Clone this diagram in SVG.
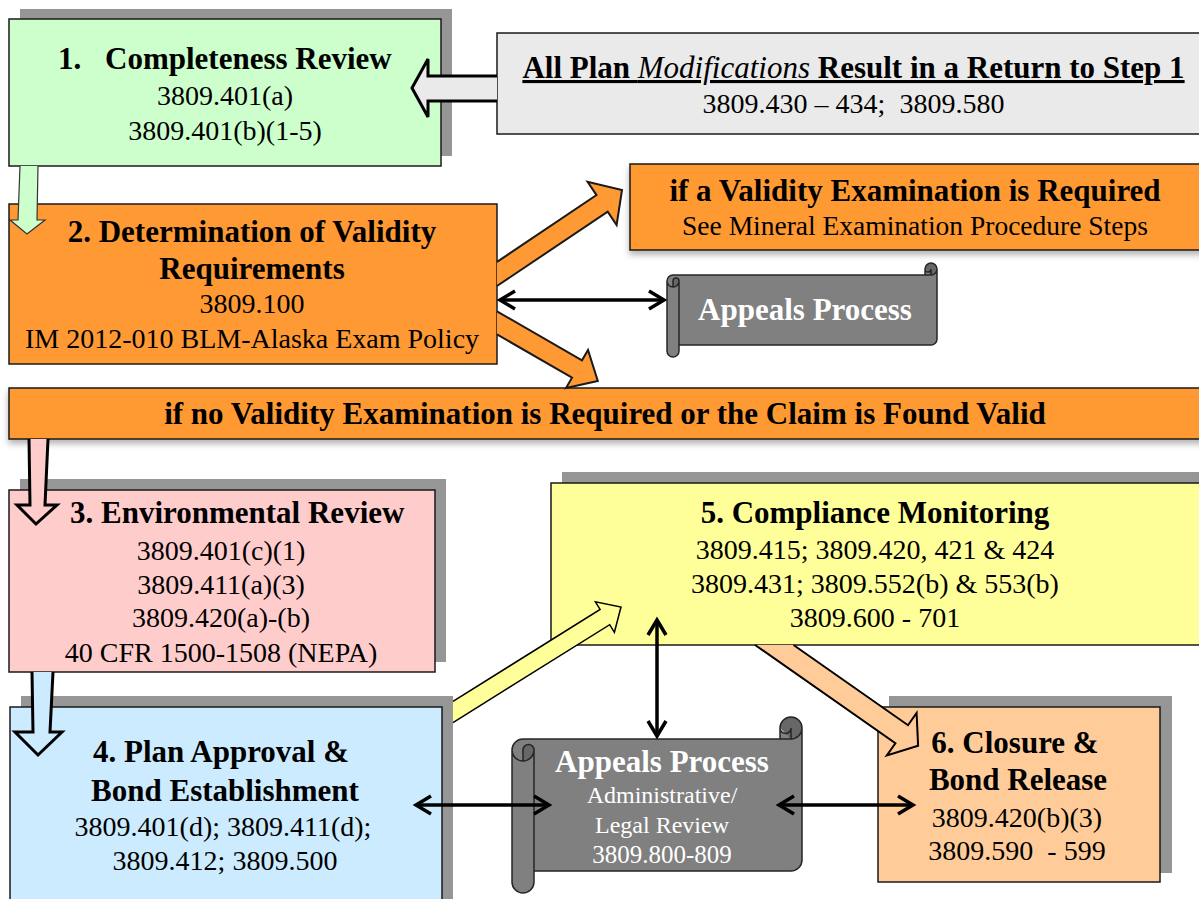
<svg xmlns="http://www.w3.org/2000/svg" width="1199" height="899" viewBox="0 0 1199 899">
<defs>
<style>
text{font-family:"Liberation Serif","Times New Roman",serif;fill:#000}
.tb{font-size:31px;font-weight:bold}
.r{font-size:28px}
.m{text-anchor:middle}
.w{fill:#fff}
.box{stroke:#1a1a1a;stroke-width:1.5}
.sh{fill:#969696}
.scroll{fill:#808080}
.scrolld{fill:#676767}
.scrolls{fill:none;stroke:#262626;stroke-width:1.5}
.blk{fill:none;stroke:#000;stroke-width:3.5;marker-start:url(#ah);marker-end:url(#ah)}
</style>
<marker id="ah" markerUnits="userSpaceOnUse" viewBox="-20 -12 24 24" refX="0" refY="0" markerWidth="24" markerHeight="24" orient="auto-start-reverse">
<path d="M-15,-9 L0,0 L-15,9" fill="none" stroke="#000" stroke-width="3.5" stroke-linejoin="miter"/>
</marker>
<filter id="soft" x="-5%" y="-30%" width="110%" height="180%">
<feGaussianBlur in="SourceAlpha" stdDeviation="3"/>
<feOffset dy="4" result="o"/>
<feFlood flood-color="#000" flood-opacity="0.3"/>
<feComposite in2="o" operator="in"/>
<feMerge><feMergeNode/><feMergeNode in="SourceGraphic"/></feMerge>
</filter>
</defs>
<rect width="1199" height="899" fill="#fff"/>

<g id="node-modifications">
<rect x="497" y="33" width="720" height="101" fill="#eaeaea" class="box"/>
<text class="tb m" x="853.5" y="78" text-decoration="underline">All Plan <tspan font-style="italic" font-weight="normal">Modifications</tspan> Result in a Return to Step 1</text>
<text class="r m" x="853.5" y="113" style="white-space:pre">3809.430 – 434;  3809.580</text>
</g>

<g id="node-1">
<rect class="sh" x="20" y="9" width="432" height="147"/>
<rect x="9" y="19" width="432" height="147" fill="#ccffcc" class="box"/>
<text class="tb" y="69"><tspan x="58">1.</tspan><tspan x="105">Completeness Review</tspan></text>
<text class="r m" x="225" y="105">3809.401(a)</text>
<text class="r m" x="225" y="140">3809.401(b)(1-5)</text>
</g>

<g id="node-2">
<rect x="9" y="204" width="488" height="160" fill="#ff9933" class="box"/>
<text class="tb m" x="252" y="242">2. Determination of Validity</text>
<text class="tb m" x="252" y="279">Requirements</text>
<text class="r m" x="252" y="313">3809.100</text>
<text class="r m" x="252" y="348">IM 2012-010 BLM-Alaska Exam Policy</text>
</g>

<g id="node-validity-required">
<rect x="630" y="164" width="600" height="86" fill="#ff9933" class="box" filter="url(#soft)"/>
<text class="tb m" x="915" y="201">if a Validity Examination is Required</text>
<text class="m" x="915" y="235" font-size="27.5">See Mineral Examination Procedure Steps</text>
</g>

<g id="node-appeals-1">
<path class="scroll" d="M937,269 A6,6 0 0 1 931,275 L931,269 A3,3 0 0 1 925,269 L925,275 L673,275 A6,6 0 0 0 667,281 L667,351 A6,6 0 0 0 679,351 L679,345 L931,345 A6,6 0 0 0 937,339 Z"/>
<path class="scrolld" d="M931,275 A6,6 0 0 0 937,269 A6,6 0 0 0 925,269 Z M673,287 A6,6 0 0 0 679,281 A3,3 0 0 0 673,281 Z"/>
<path class="scrolls" d="M667,281 A6,6 0 0 1 673,275 L925,275 L925,269 A6,6 0 0 1 937,269 L937,339 A6,6 0 0 1 931,345 L679,345 L679,351 A6,6 0 0 1 667,351 Z M925,275 L931,275 A6,6 0 0 0 937,269 M931,275 L931,269 A3,3 0 0 1 925,269 M673,287 L673,281 A3,3 0 0 1 679,281 A6,6 0 0 1 667,281 M679,281 L679,345"/>
<text class="tb m w" x="805" y="320">Appeals Process</text>
</g>

<g id="node-no-validity">
<rect x="9" y="388" width="1210" height="51" fill="#ff9933" class="box" filter="url(#soft)"/>
<text class="tb m" x="605" y="424">if no Validity Examination is Required or the Claim is Found Valid</text>
</g>

<g id="node-3">
<rect class="sh" x="20" y="479" width="426" height="183"/>
<rect x="9" y="490" width="426" height="182" fill="#ffcccc" class="box"/>
<text class="tb" x="70" y="523">3. Environmental Review</text>
<text class="r m" x="221" y="560">3809.401(c)(1)</text>
<text class="r m" x="221" y="594">3809.411(a)(3)</text>
<text class="r m" x="221" y="627">3809.420(a)-(b)</text>
<text class="r m" x="221" y="662">40 CFR 1500-1508 (NEPA)</text>
</g>

<g id="node-6">
<rect class="sh" x="889" y="696" width="283" height="177"/>
<rect x="878" y="707" width="282" height="175" fill="#ffcc99" class="box"/>
<text class="tb m" x="1015" y="753">6. Closure &amp;</text>
<text class="tb m" x="1018" y="790">Bond Release</text>
<text class="r m" x="1017" y="827">3809.420(b)(3)</text>
<text class="r m" x="1017" y="860" style="white-space:pre">3809.590  - 599</text>
</g>

<g id="node-5">
<rect class="sh" x="562" y="472" width="660" height="163"/>
<rect x="551" y="483" width="660" height="162" fill="#ffff99" class="box"/>
<text class="tb m" x="875" y="523">5. Compliance Monitoring</text>
<text class="r m" x="875" y="559">3809.415; 3809.420, 421 &amp; 424</text>
<text class="r m" x="875" y="593">3809.431; 3809.552(b) &amp; 553(b)</text>
<text class="r m" x="875" y="627">3809.600 - 701</text>
</g>

<g id="node-4">
<rect class="sh" x="21" y="696" width="432" height="220"/>
<rect x="10" y="707" width="432" height="210" fill="#ccebff" class="box"/>
<text class="tb m" x="221" y="762">4. Plan Approval &amp;</text>
<text class="tb m" x="225" y="801">Bond Establishment</text>
<text class="r m" x="223" y="836">3809.401(d); 3809.411(d);</text>
<text class="r m" x="225" y="870">3809.412; 3809.500</text>
</g>

<g id="node-appeals-2">
<path class="scroll" d="M802,728 A11,11 0 0 1 791,739 L791,728 A5.5,5.5 0 0 1 780,728 L780,739 L523,739 A11,11 0 0 0 512,750 L512,882 A11,11 0 0 0 534,882 L534,871 L791,871 A11,11 0 0 0 802,860 Z"/>
<path class="scrolld" d="M791,739 A11,11 0 0 0 802,728 A11,11 0 0 0 780,728 Z M523,761 A11,11 0 0 0 534,750 A5.5,5.5 0 0 0 523,750 Z"/>
<path class="scrolls" d="M512,750 A11,11 0 0 1 523,739 L780,739 L780,728 A11,11 0 0 1 802,728 L802,860 A11,11 0 0 1 791,871 L534,871 L534,882 A11,11 0 0 1 512,882 Z M780,739 L791,739 A11,11 0 0 0 802,728 M791,739 L791,728 A5.5,5.5 0 0 1 780,728 M523,761 L523,750 A5.5,5.5 0 0 1 534,750 A11,11 0 0 1 512,750 M534,750 L534,871"/>
<text class="tb m w" x="662" y="772">Appeals Process</text>
<text class="m w" x="662" y="803" font-size="24">Administrative/</text>
<text class="m w" x="662" y="833" font-size="24">Legal Review</text>
<text class="m w" x="662" y="863" font-size="25">3809.800-809</text>
</g>

<g id="connectors">
<path d="M497,76 L428,76 L428,59 L412,88 L428,117 L428,101 L497,101" fill="#eaeaea" stroke="#000" stroke-width="3" stroke-linejoin="miter"/>
<path d="M497,261.9 L596.5,195.1 L587.6,181.8 L622,190 L616.6,225 L607.7,211.7 L497,286" fill="#ff9933" stroke="#1a1a1a" stroke-width="2"/>
<path d="M497,311.3 L582,360.3 L588,350 L597.8,381 L566,388 L572,377.7 L497,334.4" fill="#ff9933" stroke="#1a1a1a" stroke-width="2"/>
<path d="M20,166 L18,220 L10,220 L27,234 L45,220 L37,220 L38,166" fill="#ccffcc" stroke="#333" stroke-width="1.2"/>
<path d="M29,439 L30,505 L17,505 L36,524 L57,505 L45,505 L48,439" fill="#ffcccc" stroke="#000" stroke-width="3"/>
<path d="M32,672 L33,732 L15,732 L38,755 L62,732 L50,732 L53,672" fill="#ccebff" stroke="#000" stroke-width="3"/>
<path d="M453,701.4 L600.1,609.4 L595.4,601.8 L621,607 L614.4,632.3 L609.7,624.7 L453,722.6" fill="#ffff99" stroke="#000" stroke-width="1.5"/>
<path d="M755.1,645 L895.4,743.2 L886.8,755.5 L918.1,745.7 L916.6,712.9 L908,725.2 L793.5,645" fill="#ffcc99" stroke="#000" stroke-width="2"/>
<line class="blk" x1="500" y1="300" x2="664" y2="300"/>
<line class="blk" x1="657" y1="620" x2="657" y2="736"/>
<line class="blk" x1="416" y1="805" x2="549" y2="805"/>
<line class="blk" x1="779" y1="805" x2="913" y2="805"/>
</g>
</svg>
